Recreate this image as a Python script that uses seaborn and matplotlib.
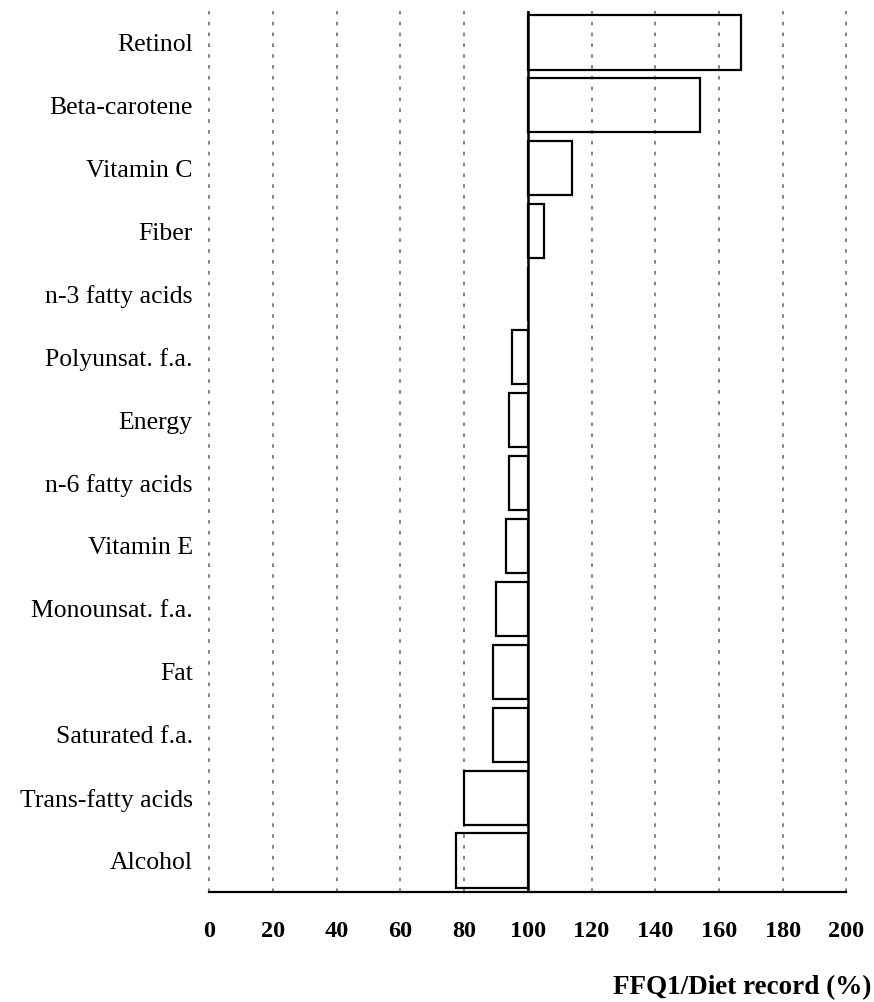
"""FFQ1 / diet record ratio per nutrient, bars drawn from the 100 % line."""
import numpy as np
import pandas as pd
import matplotlib
matplotlib.use("Agg")
import matplotlib.pyplot as plt
import seaborn as sns

# ---------------------------------------------------------------------------
# Data
# ---------------------------------------------------------------------------
nutrients = [
    'Retinol', 'Beta-carotene', 'Vitamin C', 'Fiber', 'n-3 fatty acids',
    'Polyunsat. f.a.', 'Energy', 'n-6 fatty acids', 'Vitamin E',
    'Monounsat. f.a.', 'Fat', 'Saturated f.a.', 'Trans-fatty acids', 'Alcohol',
]
ratio_pct = [167, 154, 114, 105, 100, 95, 94, 94, 93, 90, 89, 89, 80, 77.5]
x_ticks = [0, 20, 40, 60, 80, 100, 120, 140, 160, 180, 200]
baseline = 100

df = pd.DataFrame({'nutrient': nutrients, 'ratio': ratio_pct})
df['delta'] = df['ratio'] - baseline

# ---------------------------------------------------------------------------
# Figure
# ---------------------------------------------------------------------------
sns.set_style('white')
plt.rcParams['font.family'] = ['Liberation Serif', 'DejaVu Serif']
plt.rcParams['text.color'] = 'black'
plt.rcParams['xtick.color'] = 'black'
plt.rcParams['ytick.color'] = 'black'
plt.rcParams['axes.labelcolor'] = 'black'

fig = plt.figure(figsize=(8.74, 10.02), dpi=100)
ax = fig.add_axes([0.2395, 0.1098, 0.7290, 0.8792])

sns.barplot(data=df, x='delta', y='nutrient', orient='h', left=baseline,
            width=0.86, fill=False, color='black', linewidth=1.6, ax=ax,
            zorder=3)

ax.axvline(baseline, color='black', lw=1.8, zorder=4)
for t in x_ticks:
    ax.axvline(t, color='#7a7a7a', lw=1.3, ls=(0, (2.0, 4.0)), zorder=1,
               clip_on=False)

ax.set_xlim(0, 200)
ax.set_ylim(13.5, -0.5)
ax.set_xticks(x_ticks)
ax.set_xticklabels([str(t) for t in x_ticks], fontsize=17.5, fontweight='bold')
ax.tick_params(axis='x', length=6, width=1.5, pad=15, direction='out')
ax.tick_params(axis='y', length=0, pad=12, labelsize=18.5)
ax.set_ylabel('')

for s in ('top', 'right', 'left'):
    ax.spines[s].set_visible(False)
ax.spines['bottom'].set_linewidth(1.6)
ax.spines['bottom'].set_color('black')

ax.set_xlabel('FFQ1/Diet record (%)', fontsize=19.5, fontweight='bold',
              ha='right', va='center')
ax.xaxis.set_label_coords(1.039, -0.109)

fig.savefig('out.png', dpi=100)
plt.close(fig)
